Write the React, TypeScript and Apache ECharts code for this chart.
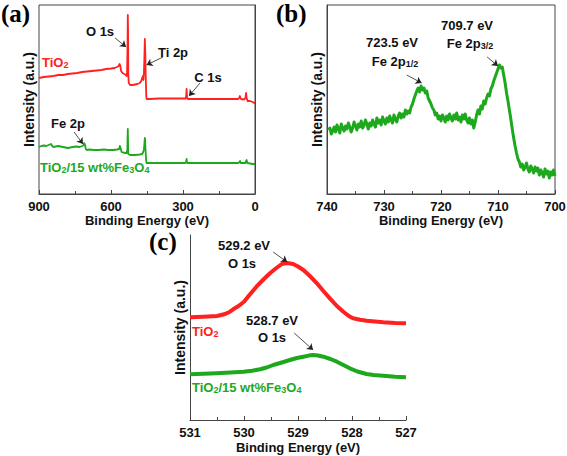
import React, { useEffect, useRef } from "react";
import * as echarts from "echarts";

// ---------- data ----------
const surveyTicks = [0, 300, 600, 900];
const fe2pTicks = [700, 710, 720, 730, 740];
const o1sTicks = [527, 528, 529, 530, 531];

// (a) survey spectra [binding energy, intensity a.u.]
const surveyTiO2: [number, number][] = [
  [900, 116], [880, 117], [860, 117.5], [840, 118], [820, 119], [800, 119], [780, 120], [760, 120.5],
  [740, 121], [720, 122], [700, 122.5], [680, 123], [660, 123.5], [640, 124], [620, 125], [600, 125.5],
  [585, 126], [575, 127], [568, 128], [564, 130], [561, 128], [558, 123], [552, 121], [545, 120],
  [540, 119.5], [535, 118], [533, 121], [531, 150], [530, 179], [529, 165], [528, 120], [526, 111],
  [520, 109], [510, 109], [500, 109.5], [490, 110], [480, 111], [474, 113], [470, 116], [467, 118],
  [465, 114], [463, 120], [461, 135], [459, 155], [458, 155], [457, 140], [455, 115], [453, 97],
  [451, 95], [440, 95], [400, 95.5], [350, 95.5], [300, 95.5], [290, 95.5], [287, 97], [285, 105],
  [283, 96], [280, 95], [250, 95], [200, 95], [150, 95], [100, 95], [75, 95], [70, 95], [66, 96],
  [63, 98], [61, 96], [58, 95], [45, 94.5], [40, 96], [37, 101], [35, 96], [31, 93], [20, 93],
  [10, 92], [3, 91], [0, 91],
];
const surveyFe: [number, number][] = [
  [900, 47], [890, 48], [880, 48.5], [870, 48], [860, 49], [850, 50], [845, 48], [840, 47],
  [830, 47.5], [820, 48], [800, 47], [790, 46.5], [780, 46], [760, 47], [745, 47.5], [730, 47],
  [720, 48], [715, 48.5], [712, 51], [710, 50], [708, 49], [705, 45], [700, 44], [690, 44.5],
  [670, 44], [650, 44], [630, 44.5], [610, 44], [590, 44], [575, 44.5], [566, 45], [563, 48],
  [560, 46], [556, 42], [550, 41.5], [540, 41], [535, 41], [532, 44], [531, 55], [530, 65],
  [529, 52], [528, 40], [520, 39], [500, 39], [480, 39.5], [470, 40], [466, 42], [463, 44],
  [461, 50], [459, 56], [458, 54], [456, 44], [454, 35], [452, 31], [440, 31], [400, 31],
  [300, 31], [290, 31], [287, 32], [285, 35], [283, 31], [250, 31], [200, 31], [150, 31],
  [100, 31], [70, 31], [64, 32], [62, 33], [60, 31], [40, 31], [37, 33], [35, 34], [32, 31],
  [20, 30.5], [10, 30], [0, 30],
];

// (b) Fe 2p high-resolution spectrum
const fe2p: [number, number][] = [
  [739.75, 64], [739.5, 66], [739.25, 60], [739, 63], [738.75, 67], [738.5, 62], [738.25, 69], [738, 65],
  [737.75, 61], [737.5, 70], [737.25, 66], [737, 63], [736.75, 68], [736.5, 65], [736.25, 71], [736, 67],
  [735.75, 62], [735.5, 66], [735.25, 72], [735, 68], [734.75, 64], [734.5, 70], [734.25, 67], [734, 73],
  [733.75, 66], [733.5, 69], [733.25, 74], [733, 70], [732.75, 65], [732.5, 71], [732.25, 68], [732, 74],
  [731.75, 70], [731.5, 67], [731.25, 76], [731, 71], [730.75, 74], [730.5, 69], [730.25, 77], [730, 73],
  [729.75, 70], [729.5, 76], [729.25, 72], [729, 78], [728.75, 74], [728.5, 71], [728.25, 79], [728, 75],
  [727.75, 72], [727.5, 78], [727.25, 81], [727, 76], [726.75, 80], [726.5, 77], [726.25, 84], [726, 80],
  [725.75, 83], [725.5, 81], [725.25, 87], [725, 90], [724.75, 95], [724.5, 99], [724.25, 103], [724, 106],
  [723.75, 102], [723.5, 108], [723.25, 104], [723, 106], [722.75, 101], [722.5, 103], [722.25, 96], [722, 93],
  [721.75, 90], [721.5, 86], [721.25, 84], [721, 79], [720.75, 81], [720.5, 75], [720.25, 78], [720, 73],
  [719.75, 79], [719.5, 76], [719.25, 72], [719, 78], [718.75, 74], [718.5, 80], [718.25, 76], [718, 73],
  [717.75, 79], [717.5, 75], [717.25, 81], [717, 74], [716.75, 77], [716.5, 72], [716.25, 79], [716, 75],
  [715.75, 80], [715.5, 74], [715.25, 71], [715, 76], [714.75, 70], [714.5, 74], [714.25, 66], [714, 72],
  [713.75, 79], [713.5, 84], [713.25, 80], [713, 88], [712.75, 85], [712.5, 93], [712.25, 90], [712, 96],
  [711.75, 100], [711.5, 98], [711.25, 105], [711, 108], [710.75, 113], [710.5, 117], [710.25, 121], [710, 125],
  [709.75, 129], [709.5, 126], [709.25, 127], [709, 119], [708.75, 111], [708.5, 101], [708.25, 93], [708, 84],
  [707.75, 75], [707.5, 65], [707.25, 56], [707, 48], [706.75, 41], [706.5, 35], [706.25, 32], [706, 27],
  [705.75, 30], [705.5, 24], [705.25, 27], [705, 31], [704.75, 25], [704.5, 22], [704.25, 28], [704, 25],
  [703.75, 21], [703.5, 27], [703.25, 23], [703, 26], [702.75, 19], [702.5, 24], [702.25, 21], [702, 17],
  [701.75, 25], [701.5, 20], [701.25, 23], [701, 16], [700.75, 22], [700.5, 19], [700.25, 24], [700, 18],
];

// (c) O 1s high-resolution spectra
const o1sTiO2: [number, number][] = [
  [531, 102.7], [530.75, 103.3], [530.5, 104], [530.35, 106], [530.26, 108.3], [530.2, 110.7],
  [530.1, 114], [530.0, 118.3], [529.9, 125], [529.77, 133.3], [529.65, 140], [529.52, 146.7],
  [529.4, 152], [529.3, 156], [529.2, 157], [529.09, 156], [529.0, 153.5], [528.9, 150],
  [528.78, 144], [528.65, 136.7], [528.53, 129], [528.41, 121.7], [528.28, 114], [528.16, 108.3],
  [528.06, 104], [527.98, 101.7], [527.85, 100.3], [527.73, 99.3], [527.42, 97.7], [527.2, 97],
  [527, 96.7],
];
const o1sFe: [number, number][] = [
  [531, 45.7], [530.75, 46.2], [530.51, 46.7], [530.25, 47.5], [530.01, 48.3], [529.85, 49.3],
  [529.7, 50.7], [529.58, 52.5], [529.46, 55], [529.3, 57.5], [529.15, 60], [529.02, 62],
  [528.9, 63.3], [528.8, 64.4], [528.72, 65], [528.63, 64.5], [528.53, 63.3], [528.4, 61],
  [528.28, 58.3], [528.16, 55], [528.04, 51.7], [527.9, 48.5], [527.73, 46], [527.6, 45],
  [527.42, 44.3], [527.2, 43.3], [527, 42.7],
];

// annotation arrows in data coordinates [fromX, fromY, toX, toY]
const arrowsA: number[][] = [
  [583, 156, 537, 147],
  [383, 137, 452, 129],
  [229, 111, 275, 98],
  [754, 62, 717, 50],
];
const arrowsB: number[][] = [
  [726, 119, 723.4, 111],
  [711.9, 137, 710.0, 128],
];
const arrowsC: number[][] = [
  [529.46, 168, 529.2, 158],
  [529.07, 87, 528.72, 70],
];

// ---------- styles ----------
const RED = "#ff2020";
const GREEN = "#1ea81e";
const SANS = "'Liberation Sans', Arial, sans-serif";
const AXIS = "#444";

function xAxisFor(gridIndex: number, ticks: number[], nameGap: number) {
  return {
    gridIndex,
    type: "value",
    inverse: true,
    min: ticks[0],
    max: ticks[ticks.length - 1],
    interval: ticks[1] - ticks[0],
    name: "Binding Energy (eV)",
    nameLocation: "middle",
    nameGap,
    nameTextStyle: { fontFamily: SANS, fontWeight: "bold", fontSize: 13, color: "#111" },
    axisLine: { show: true, lineStyle: { color: AXIS, width: 1 } },
    axisTick: { show: true, inside: true, length: 4, lineStyle: { color: AXIS } },
    minorTick: { show: true, splitNumber: 2, length: 3, lineStyle: { color: AXIS } },
    axisLabel: { fontFamily: SANS, fontWeight: "bold", fontSize: 13, color: "#111", margin: 6 },
    splitLine: { show: false },
  };
}
function yAxisFor(gridIndex: number, max: number) {
  return {
    gridIndex,
    type: "value",
    min: 0,
    max,
    name: "Intensity (a.u.)",
    nameLocation: "middle",
    nameGap: 3,
    nameTextStyle: { fontFamily: SANS, fontWeight: "bold", fontSize: 14, color: "#111" },
    axisLine: { show: true, lineStyle: { color: AXIS, width: 1 } },
    axisTick: { show: false },
    axisLabel: { show: false },
    splitLine: { show: false },
  };
}
function arrowMark(list: number[][]) {
  return {
    silent: true,
    symbol: ["none", "arrow"],
    symbolSize: 6,
    label: { show: false },
    emphasis: { disabled: true },
    lineStyle: { color: "#222", width: 0.8, type: "solid" },
    data: list.map((a) => [{ coord: [a[0], a[1]] }, { coord: [a[2], a[3]] }]),
  };
}
function lineSeries(idx: number, data: [number, number][], color: string, width: number, arrows?: number[][]) {
  return {
    type: "line",
    xAxisIndex: idx,
    yAxisIndex: idx,
    data,
    showSymbol: false,
    symbol: "none",
    lineStyle: { color, width, join: "round" },
    itemStyle: { color },
    z: 3,
    markLine: arrows ? arrowMark(arrows) : undefined,
  };
}

function label(x: number, y: number, text: string, rich?: any, align = "center") {
  return {
    type: "text",
    x,
    y,
    z: 10,
    style: {
      text,
      rich,
      align,
      verticalAlign: "middle",
      fill: "#111",
      font: `bold 13px ${SANS}`,
    },
  };
}
function sampleRich(color: string) {
  return {
    n: { fontFamily: SANS, fontWeight: "bold", fontSize: 13, lineHeight: 15, fill: color },
    s: { fontFamily: SANS, fontWeight: "bold", fontSize: 9, lineHeight: 9, verticalAlign: "bottom", fill: color },
  };
}
const tiO2Text = "{n|TiO}{s|2}";
const compositeText = "{n|TiO}{s|2}{n|/15 wt%Fe}{s|3}{n|O}{s|4}";
const subRich = {
  n: { fontFamily: SANS, fontWeight: "bold", fontSize: 13, lineHeight: 15, fill: "#111" },
  s: { fontFamily: SANS, fontWeight: "bold", fontSize: 9, lineHeight: 9, verticalAlign: "bottom", fill: "#111" },
};
function panelLabel(x: number, y: number, text: string) {
  return {
    type: "text",
    x,
    y,
    z: 10,
    style: { text, fill: "#000", font: `bold 25px 'Liberation Serif', 'Times New Roman', serif` },
  };
}

export default function App() {
  const ref = useRef<HTMLDivElement>(null);
  useEffect(() => {
    if (!ref.current) return;
    const chart = echarts.init(ref.current, undefined, { renderer: "svg" });
    const gridBase = { outerBoundsMode: "none", containLabel: false };
    chart.setOption({
      animation: false,
      backgroundColor: "#fff",
      grid: [
        { ...gridBase, left: 39, right: 312, top: 5, bottom: 262, show: true, borderColor: AXIS, borderWidth: 1 },
        { ...gridBase, left: 327, right: 12, top: 5, bottom: 262, show: true, borderColor: AXIS, borderWidth: 1 },
        { ...gridBase, left: 190, right: 161, top: 235, bottom: 36 },
      ],
      xAxis: [xAxisFor(0, surveyTicks, 20), xAxisFor(1, fe2pTicks, 20), xAxisFor(2, o1sTicks, 21)],
      yAxis: [yAxisFor(0, 189), yAxisFor(1, 189), yAxisFor(2, 185)],
      series: [
        lineSeries(0, surveyTiO2, RED, 1.8, arrowsA),
        lineSeries(0, surveyFe, GREEN, 1.8),
        lineSeries(1, fe2p, GREEN, 3, arrowsB),
        lineSeries(2, o1sTiO2, RED, 4, arrowsC),
        lineSeries(2, o1sFe, GREEN, 4),
      ],
      graphic: [
        panelLabel(1, 1, "(a)"),
        panelLabel(276, 1, "(b)"),
        panelLabel(149, 229, "(c)"),
        // (a)
        label(100, 31, "O 1s"),
        label(173, 52, "Ti 2p"),
        label(208, 77, "C 1s"),
        label(68, 123, "Fe 2p"),
        label(42, 62, tiO2Text, sampleRich(RED), "left"),
        label(40, 167, compositeText, sampleRich(GREEN), "left"),
        // (b)
        label(467, 25, "709.7 eV"),
        label(470, 43, "{n|Fe 2p}{s|3/2}", subRich),
        label(392, 42, "723.5 eV"),
        label(395, 61, "{n|Fe 2p}{s|1/2}", subRich),
        // (c)
        label(244, 245, "529.2 eV"),
        label(242, 263, "O 1s"),
        label(272, 320, "528.7 eV"),
        label(272, 337, "O 1s"),
        label(192, 331, tiO2Text, sampleRich(RED), "left"),
        label(192, 387, compositeText, sampleRich(GREEN), "left"),
      ],
    });
    return () => chart.dispose();
  }, []);
  return (
    <div
      ref={ref}
      style={{ position: "absolute", left: 0, top: 0, width: 567, height: 456, background: "#fff" }}
    />
  );
}
